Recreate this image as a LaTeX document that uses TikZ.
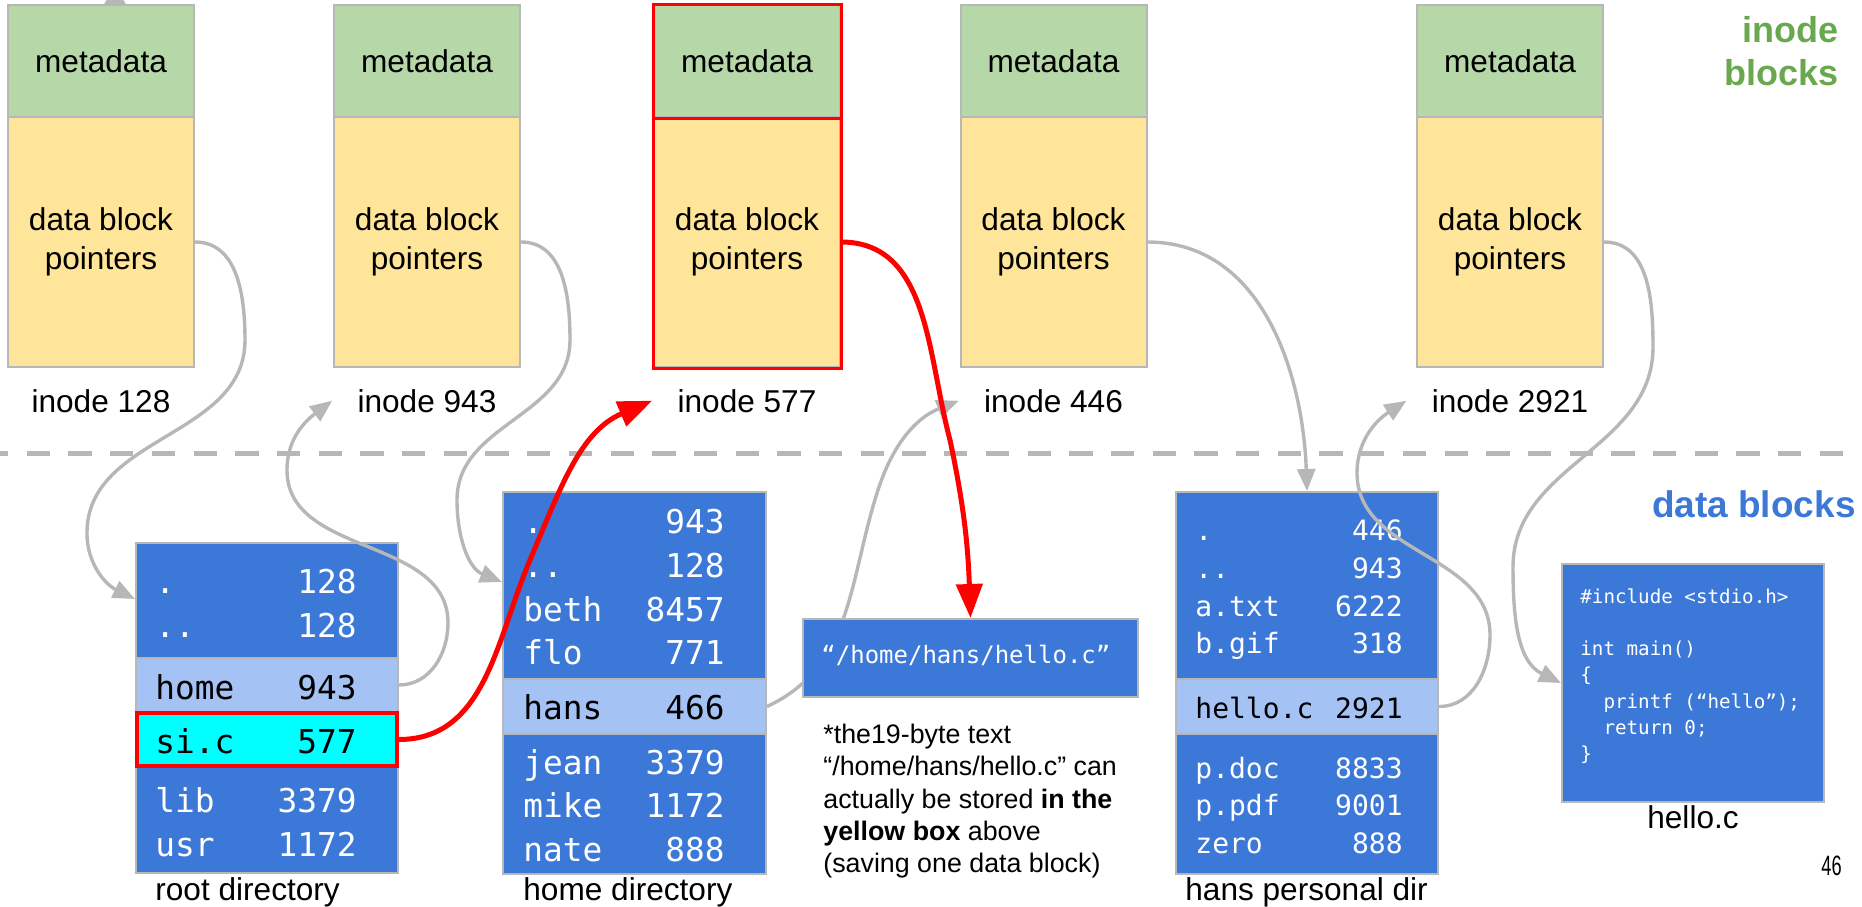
\documentclass[tikz,border=0pt]{standalone}
\usepackage{fontspec}
\setmainfont{Liberation Sans}
\newfontfamily\dmono{DejaVu Sans Mono}
\newfontfamily\narrowfont[FakeStretch=0.65]{Liberation Sans}
\usetikzlibrary{arrows.meta,calc}
\definecolor{gborder}{HTML}{B7B7B7}
\definecolor{metagreen}{HTML}{B6D7A8}
\definecolor{dbpyellow}{HTML}{FFE599}
\definecolor{dblue}{HTML}{3C78D8}
\definecolor{lblue}{HTML}{A4C2F4}
\definecolor{titlegreen}{HTML}{6AA84F}
\definecolor{linegray}{HTML}{B7B7B7}
\definecolor{cyanrow}{HTML}{00FFFF}
\pgfdeclarelayer{bg}
\pgfsetlayers{bg,main}
\tikzset{
  mainfont/.style={font=\fontsize{15.8}{19.5}\selectfont},
  metabox/.style={draw=gborder, line width=1pt, fill=metagreen, minimum width=93pt, minimum height=56pt, inner sep=0pt, mainfont},
  dbpbox/.style={draw=gborder, line width=1pt, fill=dbpyellow, minimum width=93pt, minimum height=125pt, inner sep=0pt, align=center, mainfont},
  ilabel/.style={anchor=base, inner xsep=12.5pt, inner ysep=0pt, mainfont},
  dirbox/.style={draw=gborder, line width=1pt, fill=dblue, inner sep=0pt},
  lightrow/.style={draw=gborder, line width=1pt, fill=lblue, inner sep=0pt},
  dname/.style={anchor=base west, inner sep=0pt, text=#1, font=\dmono\fontsize{16.4}{18}\selectfont},
  dnum/.style={anchor=base east, inner sep=0pt, text=#1, font=\dmono\fontsize{16.4}{18}\selectfont},
  hname/.style={anchor=base west, inner sep=0pt, text=#1, font=\dmono\fontsize{14}{16}\selectfont},
  hnum/.style={anchor=base east, inner sep=0pt, text=#1, font=\dmono\fontsize{14}{16}\selectfont},
  codeline/.style={anchor=base west, inner sep=0pt, text=white, font=\dmono\fontsize{9.6}{12}\selectfont},
  noteline/.style={anchor=base west, inner sep=0pt, font=\fontsize{13.4}{16}\selectfont},
  blabel/.style={anchor=base west, inner sep=0pt, mainfont},
  garrow/.style={draw=linegray, line width=1.7pt, -{Triangle[length=11pt,width=9pt]}},
  rarrow/.style={draw=red, line width=2.5pt, -{Triangle[length=17pt,width=13pt]}},
}
\begin{document}
\begin{tikzpicture}[x=0.5pt, y=-0.5pt]
\useasboundingbox (0,0) rectangle (1862,906);
\clip (0,0) rectangle (1862,906);

% background layer: divider, stub arrow
\begin{pgfonlayer}{bg}
  \draw[linegray, line width=2.5pt, dash pattern=on 11.65pt off 9.2pt] (-15,453) -- (1880,453);
  \coordinate (stubfrom) at (115,60);
  \coordinate (stubto) at (115,-14);
  \draw[draw=linegray, line width=1.7pt, -{Triangle[length=12pt,width=14pt]}] (stubfrom) -- (stubto);
\end{pgfonlayer}

% inode blocks
\foreach \nm/\cx in {128/101, 943/427, 577/747, 446/1053.5, 2921/1510}{
  \node[metabox] (m\nm) at (\cx,61) {metadata};
  \node[dbpbox] (d\nm) at (\cx,242) {data block\\pointers};
  \node[ilabel] (l\nm) at (\cx,412) {inode \nm};
}
\draw[red, line width=1.5pt] (m577.north west) rectangle (d577.south east);
\draw[red, line width=1.5pt] (m577.south west) -- (m577.south east);

\node[anchor=base east, inner sep=0pt, text=titlegreen, font=\bfseries\fontsize{18}{21.5}\selectfont] (t1) at (1839,42) {inode};
\node[anchor=base east, inner sep=0pt, text=titlegreen, font=\bfseries\fontsize{18}{21.5}\selectfont] (t2) at (1839,85) {blocks};
\node[anchor=base east, inner sep=0pt, text=dblue, font=\bfseries\fontsize{18.5}{22}\selectfont] (t3) at (1856,517) {data blocks};

% root directory
\node[dirbox, minimum width=131pt, minimum height=165pt] (root) at (267,708) {};
\node[lightrow, minimum width=131pt, minimum height=27pt] (rootHome) at (267,685) {};
\node[draw=red, line width=1.7pt, fill=cyanrow, inner sep=0pt, minimum width=130pt, minimum height=26.5pt] (rootSic) at (267,739.5) {};
\foreach \nm/\nu/\yy/\cl [count=\i] in {./128/593/white, ../128/637/white, home/943/699/black, si.c/577/753/black, lib/3379/812/white, usr/1172/856/white}{
  \node[dname=\cl] (rn\i) at (155,\yy) {\nm};
  \node[dnum=\cl] (rv\i) at (357,\yy) {\nu};
}
\node[blabel] (rootlbl) at (155,900) {root directory};

% home directory
\node[dirbox, minimum width=131.5pt, minimum height=191pt] (home) at (634.5,683) {};
\node[lightrow, minimum width=131.5pt, minimum height=27.5pt] (homeHans) at (634.5,706.5) {};
\foreach \nm/\nu/\yy/\cl [count=\i] in {./943/533/white, ../128/577/white, beth/8457/621/white, flo/771/664/white, hans/466/719/black, jean/3379/774/white, mike/1172/817/white, nate/888/861/white}{
  \node[dname=\cl] (hn\i) at (523,\yy) {\nm};
  \node[dnum=\cl] (hv\i) at (725,\yy) {\nu};
}
\node[blabel] (homelbl) at (523,900) {home directory};

% path data block
\node[dirbox, minimum width=167.5pt, minimum height=39pt] (pathbox) at (970.5,658) {};
\node[anchor=base west, inner sep=0pt, text=white, font=\dmono\fontsize{12}{14}\selectfont] (pathtxt) at (821,663) {“/home/hans/hello.c”};

% note
\node[noteline] (n1) at (823,743) {*the19-byte text};
\node[noteline] (n2) at (823,775) {“/home/hans/hello.c” can};
\node[noteline] (n3) at (823,808) {actually be stored \textbf{in the}};
\node[noteline] (n4) at (823,840) {\textbf{yellow box} above};
\node[noteline] (n5) at (823,872) {(saving one data block)};

% hans personal dir
\node[dirbox, minimum width=131pt, minimum height=191pt] (hans) at (1307,683) {};
\node[lightrow, minimum width=131pt, minimum height=27.5pt] (hansHello) at (1307,706.5) {};
\foreach \nm/\nu/\yy/\cl [count=\i] in {./446/540/white, ../943/578/white, a.txt/6222/616/white, b.gif/318/653/white, hello.c/2921/718/black, p.doc/8833/778/white, p.pdf/9001/815/white, zero/888/853/white}{
  \node[hname=\cl] (pn\i) at (1195,\yy) {\nm};
  \node[hnum=\cl] (pv\i) at (1403,\yy) {\nu};
}
\node[blabel] (hanslbl) at (1185,900) {hans personal dir};

% hello.c data block
\node[dirbox, minimum width=131pt, minimum height=119pt] (hellobox) at (1693,683) {};
\node[codeline] (c1) at (1580,603) {\#include <stdio.h>};
\node[codeline] (c2) at (1580,655) {int main()};
\node[codeline] (c3) at (1580,681) {\{};
\node[codeline] (c4) at (1580,708) {\phantom{xx}printf (“hello”);};
\node[codeline] (c5) at (1580,734) {\phantom{xx}return 0;};
\node[codeline] (c6) at (1580,760) {\}};
\node[anchor=base, inner sep=0pt, mainfont] (hellolbl) at (1693,828) {hello.c};
\node[anchor=base east, inner sep=0pt, font=\narrowfont\fontsize{14}{16}\selectfont] (pageno) at (1842,875) {46};

% connector hidden behind the path box
\begin{pgfonlayer}{bg}
  \draw[garrow] (homeHans.east) to[out=25,in=-108] (878,490) to[out=72,in=202] (l446.west);
\end{pgfonlayer}

% gray connectors
\draw[garrow] (d128.east) to[out=0,in=90] (245,340) to[out=-90,in=90] (87,533) to[out=-90,in=154] ([yshift=-28.5pt]root.north west);
\draw[garrow] (rootHome.east) to[out=0,in=-90] (448,623) to[out=90,in=-90] (287,470) to[out=90,in=217] (l943.west);
\draw[garrow] (d943.east) to[out=0,in=90] (570,340) to[out=-90,in=90] (457,500) to[out=-90,in=158] ([yshift=-45.5pt]home.north west);
\draw[garrow] (d446.east) to[out=0,in=92] (hans.north);
\draw[garrow] (hansHello.east) to[out=0,in=-90] (1490,635) to[out=90,in=-90] (1357,473) to[out=90,in=213] (l2921.west);
\draw[garrow] (d2921.east) to[out=0,in=90] (1653,347) to[out=-90,in=90] (1513,567) to[out=-90,in=154] (hellobox.west);

% red connectors
\draw[rarrow] (rootSic.east) to[out=0,in=-113] (530,560) to[out=67,in=203] (l577.west);
\draw[rarrow] (d577.east) to[out=0,in=105] (950,440) to[out=-78,in=92] (pathbox.north);
\end{tikzpicture}
\end{document}
